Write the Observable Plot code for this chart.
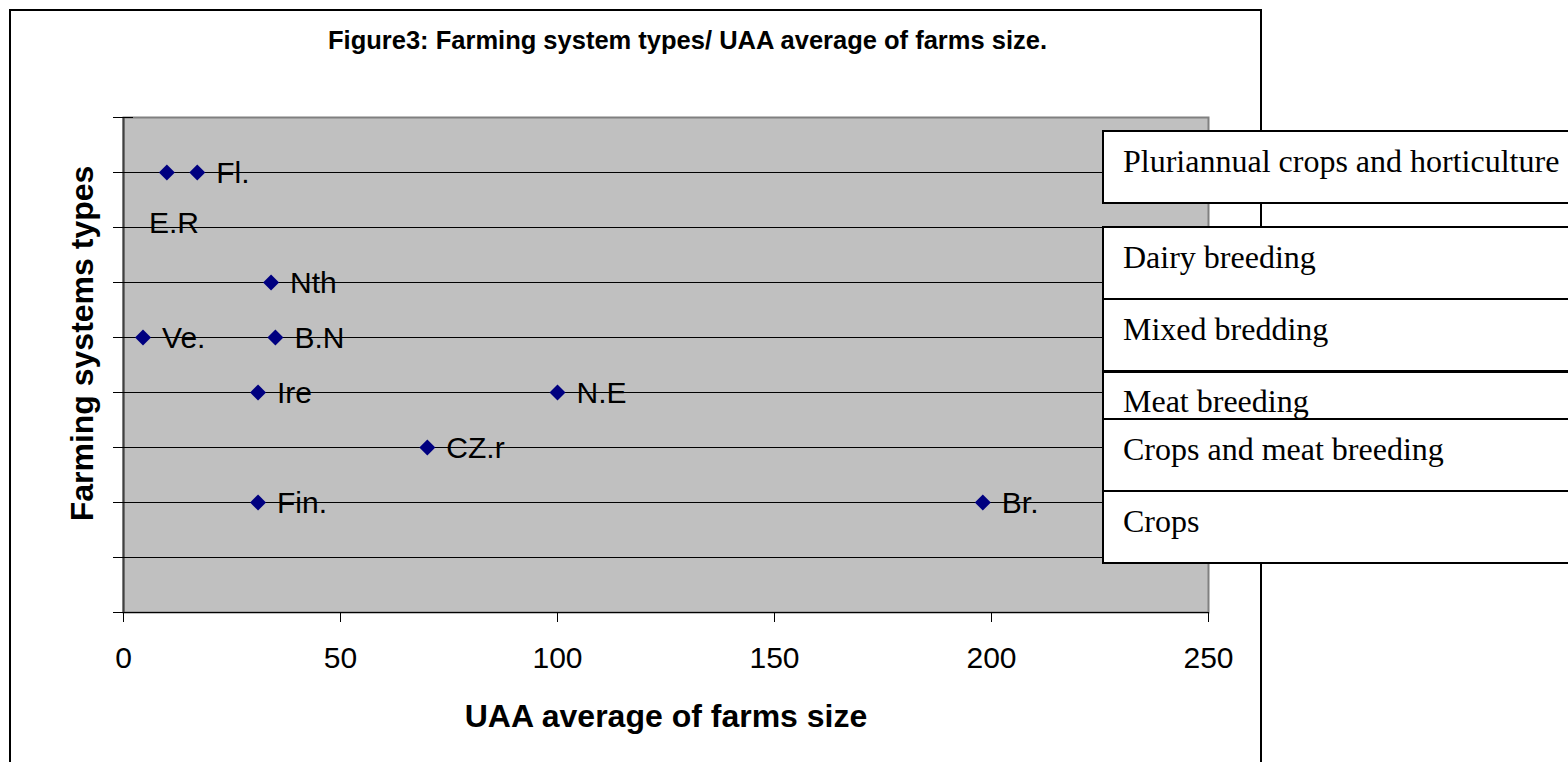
<!DOCTYPE html>
<html>
<head>
<meta charset="utf-8">
<script src="https://cdn.jsdelivr.net/npm/d3@7"></script>
<script src="https://cdn.jsdelivr.net/npm/@observablehq/plot@0.6"></script>
<style>
  html, body { margin: 0; padding: 0; background: #fff; overflow: hidden; }
  #wrap { position: relative; width: 1568px; height: 762px; overflow: hidden; }
  #chart { position: absolute; left: 0; top: 0; }
  #outer { position: absolute; left: 9px; top: 9px; width: 1253px; height: 800px; border: 2px solid #000; box-sizing: border-box; pointer-events: none; }
  #title { position: absolute; left: 0; top: 28.4px; width: 1375px; text-align: center; font-family: 'Liberation Sans', Arial, sans-serif; font-weight: bold; font-size: 25.5px; line-height: 25.5px; color: #000; white-space: nowrap; }
  .lbox { position: absolute; left: 1102px; width: 600px; height: 74px; box-sizing: border-box; border: 2px solid #000; background: #fff; padding: 12.7px 0 0 19px; font-family: 'Liberation Serif', 'Times New Roman', serif; font-size: 32px; line-height: 32px; color: #000; white-space: nowrap; }
</style>
</head>
<body>
<div id="wrap">
  <div id="chart"></div>
  <div id="outer"></div>
  <div id="title"></div>
  <div id="legend"></div>
</div>
<script>
// ---- data ----
const titleText = "Figure3: Farming system types/ UAA average of farms size.";
const xTitle = "UAA average of farms size";
const yTitle = "Farming systems types";
const countries = ["E.R", "Fl.", "Nth", "Ve.", "B.N", "Ire", "N.E", "CZ.r", "Fin.", "Br."];
const farmSize  = [10, 17, 34, 4.5, 35, 31, 100, 70, 31, 198];
const systemType = [8, 8, 6, 5, 5, 4, 4, 3, 2, 2];
const xTicks = [0, 50, 100, 150, 200, 250];
const yTicks = [0, 1, 2, 3, 4, 5, 6, 7, 8, 9];
const systemLabels = ["Pluriannual crops and horticulture", "Dairy breeding", "Mixed bredding", "Meat breeding", "Crops and meat breeding", "Crops"];

// ---- build ----
const data = countries.map((c, i) => ({country: c, size: farmSize[i], type: systemType[i]}));
const gridValues = yTicks.slice(1, -1);

const chart = Plot.plot({
  width: 1568,
  height: 762,
  marginLeft: 123,
  marginRight: 360,
  marginTop: 117,
  marginBottom: 150,
  style: {background: "transparent", fontFamily: "'Liberation Sans', Arial, sans-serif", fontSize: "30px", color: "#000", overflow: "visible"},
  x: {domain: [xTicks[0], xTicks[xTicks.length - 1]], label: null},
  y: {domain: [yTicks[0], yTicks[yTicks.length - 1]], label: null},
  marks: [
    Plot.frame({fill: "#c0c0c0", stroke: "#808080", strokeWidth: 2}),
    Plot.ruleY(gridValues, {stroke: "#000", strokeWidth: 1}),
    Plot.ruleX([xTicks[0]], {stroke: "#404040", strokeWidth: 2}),
    Plot.ruleY([yTicks[0]], {stroke: "#000", strokeWidth: 1}),
    Plot.axisY(yTicks, {tickSize: 20, dx: 10, tickFormat: () => "", stroke: "#000", label: null}),
    Plot.axisX(xTicks, {tickSize: 10, tickPadding: 24, stroke: "#000", fill: "#000", fontSize: 30, label: null}),
    Plot.dot(data, {x: "size", y: "type", symbol: "diamond2", r: 7.2, fill: "#000080", stroke: null}),
    Plot.text(data.filter(d => d.country !== "E.R"), {x: "size", y: "type", text: "country", textAnchor: "start", dx: 19, dy: 1, fontSize: 30, fill: "#000"}),
    Plot.text(data.filter(d => d.country === "E.R"), {x: "size", y: "type", text: "country", textAnchor: "start", dx: -18, dy: 51, fontSize: 30, fill: "#000"}),
    Plot.text([xTitle], {frameAnchor: "bottom", textAnchor: "middle", lineAnchor: "middle", dy: 104, fontWeight: "bold", fontSize: 32, fill: "#000"}),
    Plot.text([yTitle], {frameAnchor: "left", textAnchor: "middle", lineAnchor: "middle", rotate: -90, dx: -41, dy: -21.5, fontWeight: "bold", fontSize: 32, fill: "#000"})
  ]
});
document.getElementById("chart").appendChild(chart);
document.getElementById("title").textContent = titleText;

const boxTops = [130, 226, 298, 370.7, 418.3, 490];
const legend = document.getElementById("legend");
systemLabels.forEach((s, i) => {
  const d = document.createElement("div");
  d.className = "lbox";
  d.style.top = boxTops[i] + "px";
  d.textContent = s;
  legend.appendChild(d);
});
</script>
</body>
</html>
